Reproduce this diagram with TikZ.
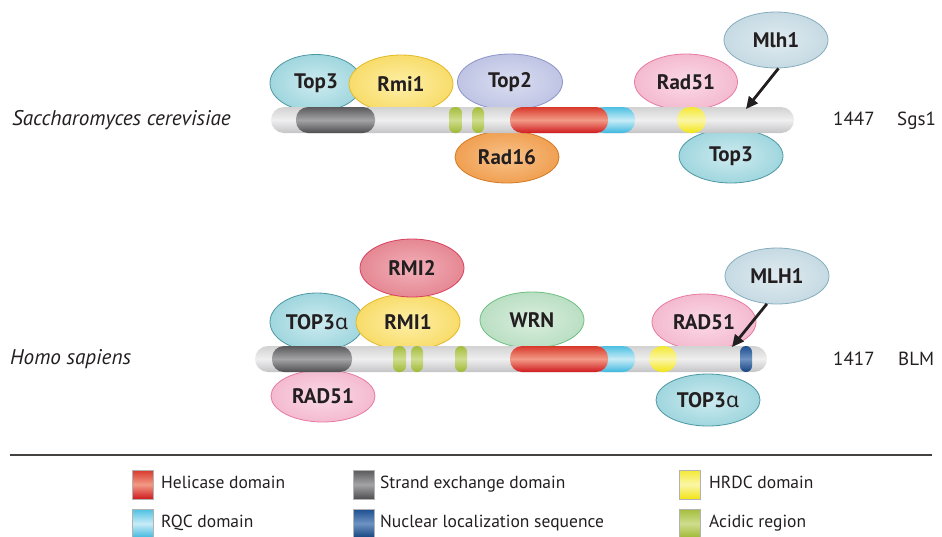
\documentclass[tikz,border=0pt]{standalone}
\usepackage{fontspec}
\setmainfont{PT Sans}
\newfontfamily\grk{Noto Sans}
\usetikzlibrary{shapes.geometric,arrows.meta}
% colours
\definecolor{txt}{HTML}{231F20}
\definecolor{topL}{HTML}{CDEBF0}\definecolor{topO}{HTML}{A0D6DE}\definecolor{topD}{HTML}{4E98A3}
\definecolor{rmiL}{HTML}{FDEFA8}\definecolor{rmiO}{HTML}{F8DC6A}\definecolor{rmiD}{HTML}{E2B928}
\definecolor{tp2L}{HTML}{DADEF1}\definecolor{tp2O}{HTML}{BFC4E4}\definecolor{tp2D}{HTML}{8C94C8}
\definecolor{radL}{HTML}{FADAE6}\definecolor{radO}{HTML}{F4BACF}\definecolor{radD}{HTML}{E77AA2}
\definecolor{mlhL}{HTML}{E0EBF0}\definecolor{mlhO}{HTML}{C6DAE3}\definecolor{mlhD}{HTML}{86ADBD}
\definecolor{r16L}{HTML}{F8C28A}\definecolor{r16O}{HTML}{F0A052}\definecolor{r16D}{HTML}{D57A22}
\definecolor{rm2L}{HTML}{F2B0B9}\definecolor{rm2O}{HTML}{E58893}\definecolor{rm2D}{HTML}{D8405F}
\definecolor{wrnL}{HTML}{DAEEDE}\definecolor{wrnO}{HTML}{BADFC3}\definecolor{wrnD}{HTML}{6DBF82}
\definecolor{redT}{HTML}{D8392B}\definecolor{redM}{HTML}{F29A86}\definecolor{redB}{HTML}{CF1A1E}
\definecolor{cyaT}{HTML}{4CC0E2}\definecolor{cyaM}{HTML}{C8ECF7}\definecolor{cyaB}{HTML}{3DB7DE}
\definecolor{yelT}{HTML}{F4E834}\definecolor{yelM}{HTML}{FBF6A8}\definecolor{yelB}{HTML}{F2E414}
\definecolor{grnT}{HTML}{A3BD3C}\definecolor{grnM}{HTML}{CFDD8E}\definecolor{grnB}{HTML}{9DB833}
\definecolor{gryT}{HTML}{5A5A5C}\definecolor{gryM}{HTML}{A4A4A6}\definecolor{gryB}{HTML}{4E4E50}
\definecolor{bluT}{HTML}{1D4E8F}\definecolor{bluM}{HTML}{6E93C2}\definecolor{bluB}{HTML}{13427F}
\definecolor{barT}{HTML}{D2D2D3}\definecolor{barM}{HTML}{EFEFF0}\definecolor{barB}{HTML}{C4C4C6}
\tikzset{
  prot/.style={ellipse, inner sep=0pt, line width=0.8pt, text=txt,
    font=\fontsize{21}{23}\selectfont\bfseries},
  pTop/.style={prot, draw=topD, inner color=topL, outer color=topO},
  pRmi/.style={prot, draw=rmiD, inner color=rmiL, outer color=rmiO},
  pTp2/.style={prot, draw=tp2D, inner color=tp2L, outer color=tp2O},
  pRad/.style={prot, draw=radD, inner color=radL, outer color=radO},
  pMlh/.style={prot, draw=mlhD, inner color=mlhL, outer color=mlhO},
  pR16/.style={prot, draw=r16D, inner color=r16L, outer color=r16O},
  pRm2/.style={prot, draw=rm2D, inner color=rm2L, outer color=rm2O},
  pWrn/.style={prot, draw=wrnD, inner color=wrnL, outer color=wrnO},
  barshade/.style={top color=barT, bottom color=barB, middle color=barM},
  dRed/.style={top color=redT, bottom color=redB, middle color=redM},
  dCya/.style={top color=cyaT, bottom color=cyaB, middle color=cyaM},
  dYel/.style={top color=yelT, bottom color=yelB, middle color=yelM},
  dGrn/.style={top color=grnT, bottom color=grnB, middle color=grnM},
  dGry/.style={top color=gryT, bottom color=gryB, middle color=gryM},
  dBlu/.style={top color=bluT, bottom color=bluB, middle color=bluM},
  swatch/.style={draw=gray!60, line width=0.4pt},
  species/.style={anchor=base west, inner sep=0pt, text=txt,
    font=\fontsize{21.2}{23}\selectfont\itshape},
  plain/.style={anchor=base west, inner sep=0pt, text=txt,
    font=\fontsize{19}{21}\selectfont},
  legtext/.style={anchor=base west, inner sep=0pt, text=txt,
    font=\fontsize{17.5}{19}\selectfont},
  pointer/.style={line width=2.8pt, -{Triangle[length=12pt,width=11pt]}, txt}
}
\begin{document}
\begin{tikzpicture}[x=1pt,y=-1pt]
\useasboundingbox (0,0) rectangle (942,536);
% ---------------- Saccharomyces cerevisiae ----------------
\node[pTop, minimum width=92pt, minimum height=57pt] (t3a) at (316,83) {Top3};
\node[pRmi, minimum width=104pt, minimum height=58pt] (rmi1a) at (401,84) {Rmi1};
\node[pTp2, minimum width=105pt, minimum height=56pt] (top2) at (510,82) {Top2};
\node[pRad, minimum width=103pt, minimum height=56pt] (rad51a) at (686,82) {Rad51};
\node[pMlh, minimum width=104pt, minimum height=56pt] (mlh1a) at (776,40) {Mlh1};
\node[pR16, minimum width=104pt, minimum height=52pt] (rad16) at (507,157) {Rad16};
\node[pTop, minimum width=104pt, minimum height=54pt] (t3b) at (731,156) {Top3};
% bar
\shade[barshade, rounded corners=13pt] (271,107) rectangle (794,133);
\shade[dGry, rounded corners=12pt] (296,107) rectangle (375,133);
\shade[dGrn, rounded corners=6pt] (449,107) rectangle (462,133);
\shade[dGrn, rounded corners=6pt] (472,107) rectangle (484,133);
\shade[dCya, rounded corners=12pt] (592,107) rectangle (635,133);
\shade[dRed, rounded corners=12pt] (510,107) rectangle (608,133);
\shade[dYel, rounded corners=13pt] (677,107) rectangle (706,133);
\coordinate (tipA) at (746,109);
\draw[pointer] (mlh1a.-85) -- (tipA);
\node[species] (sc) at (12,125) {Saccharomyces cerevisiae};
\node[plain] (n1447) at (833,125) {1447};
\node[plain] (sgs1) at (897,125) {Sgs1};
% ---------------- Homo sapiens ----------------
\node[pTop, minimum width=94pt, minimum height=58pt] (t3c) at (317,322) {TOP3{\grk α}};
\node[pRmi, minimum width=104pt, minimum height=56pt] (rmi1b) at (408,322) {RMI1};
\node[pRm2, minimum width=104pt, minimum height=58pt] (rmi2) at (412,268) {RMI2};
\node[pWrn, minimum width=104pt, minimum height=56pt] (wrn) at (532,320) {WRN};
\node[pRad, minimum width=104pt, minimum height=56pt] (rad51b) at (704,322) {RAD51};
\node[pMlh, minimum width=104pt, minimum height=56pt] (mlh1b) at (777,276) {MLH1};
\node[pRad, minimum width=104pt, minimum height=52pt] (rad51c) at (323,396) {RAD51};
\node[pTop, minimum width=104pt, minimum height=52pt] (t3d) at (708,400) {TOP3{\grk α}};
\shade[barshade, rounded corners=13pt] (255,346) rectangle (767,372);
\shade[dGry, rounded corners=12pt] (272,346) rectangle (352,372);
\shade[dGrn, rounded corners=6pt] (393,346) rectangle (406,372);
\shade[dGrn, rounded corners=6pt] (411,346) rectangle (423,372);
\shade[dGrn, rounded corners=6pt] (455,346) rectangle (467,372);
\shade[dCya, rounded corners=12pt] (592,346) rectangle (635,372);
\shade[dRed, rounded corners=12pt] (510,346) rectangle (608,372);
\shade[dYel, rounded corners=13pt] (649,346) rectangle (677,372);
\shade[dBlu, rounded corners=6pt] (740,346) rectangle (752,372);
\coordinate (tipB) at (732,347);
\draw[pointer] (mlh1b.-110) -- (tipB);
\node[species] (hs) at (10,364) {Homo sapiens};
\node[plain] (n1417) at (833,365) {1417};
\node[plain] (blm) at (898,365) {BLM};
% ---------------- separator & legend ----------------
\coordinate (sepL) at (10,455);
\coordinate (sepR) at (932,455);
\draw[line width=1.3pt, draw=txt!85] (sepL) -- (sepR);
\shade[dRed, swatch] (132,470) rectangle (153,499);
\node[legtext] (lg1) at (161,488) {Helicase domain};
\shade[dGry, swatch] (353,470) rectangle (374,499);
\node[legtext] (lg2) at (380,488) {Strand exchange domain};
\shade[dYel, swatch] (679,470) rectangle (700,499);
\node[legtext] (lg3) at (709,488) {HRDC domain};
\shade[dCya, swatch] (132,509) rectangle (153,538);
\node[legtext] (lg4) at (161,527) {RQC domain};
\shade[dBlu, swatch] (353,509) rectangle (374,538);
\node[legtext] (lg5) at (380,527) {Nuclear localization sequence};
\shade[dGrn, swatch] (679,509) rectangle (700,538);
\node[legtext] (lg6) at (709,527) {Acidic region};
\end{tikzpicture}
\end{document}
